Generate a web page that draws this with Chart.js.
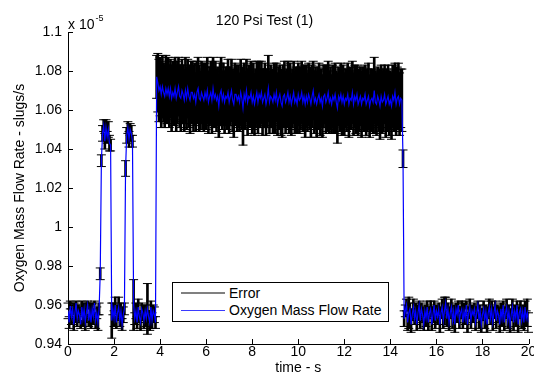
<!DOCTYPE html>
<html><head><meta charset="utf-8">
<script src="https://cdn.jsdelivr.net/npm/chart.js@4/dist/chart.umd.min.js"></script>
<style>
html,body{margin:0;padding:0;background:#fff;}
#wrap{position:relative;width:534px;height:375px;overflow:hidden;font-family:'Liberation Sans',Arial,sans-serif;}
#c{position:absolute;left:0;top:0;}
#legend{position:absolute;left:172px;top:282px;width:215px;height:38px;border:1px solid #000;background:#fff;}
.sw{position:absolute;left:8px;width:44px;}
.lt{position:absolute;left:56px;font-size:14px;line-height:16px;color:#000;white-space:nowrap;}
</style></head>
<body>
<div id="wrap">
<canvas id="c" width="534" height="375"></canvas>
<div id="legend">
  <div class="sw" style="top:9px;height:2px;background:#808080;"></div>
  <div class="lt" style="top:2px;">Error</div>
  <div class="sw" style="top:27px;height:1px;background:#3a3aff;"></div>
  <div class="lt" style="top:19px;">Oxygen Mass Flow Rate</div>
</div>
</div>
<script>
// ---- data (values in units of 1e-5 slugs/s, sampled every 0.05 s from 0 s) ----
const chartTitle = '120 Psi Test (1)';
const xAxisTitle = 'time - s';
const yAxisTitle = 'Oxygen Mass Flow Rate - slugs/s';
const sampleStart = 0;
const sampleStep = 0.05;

const flowRate = [
// 0.00-1.35
0.957,0.951,0.960,0.954,0.958,0.950,0.956,0.961,0.953,0.957,
0.955,0.950,0.959,0.953,0.958,0.951,0.956,0.960,0.952,0.957,
0.951,0.958,0.954,0.961,0.952,0.956,0.951,0.958,
// 1.40-1.85 first pulse
0.976,1.034,1.048,1.052,1.044,1.051,1.046,1.050,1.043,1.042,
// 1.90-2.45
0.952,0.958,0.953,0.960,0.951,0.956,0.959,0.952,0.957,0.950,0.955,0.958,
// 2.50-2.80 second pulse
1.030,1.047,1.051,1.045,1.050,1.048,1.044,
// 2.85-3.80
0.960,0.953,0.957,0.951,0.959,0.954,0.951,0.958,0.956,0.952,
0.957,0.953,0.958,0.954,0.951,0.959,0.952,0.957,0.955,0.951,
// 3.85 rise
1.077,
// 3.90-14.50 main flow
1.074,1.070,1.072,1.068,1.072,1.069,1.067,1.071,1.068,1.071,
1.067,1.071,1.066,1.069,1.067,1.071,1.066,1.069,1.072,1.067,
1.066,1.070,1.068,1.065,1.070,1.066,1.071,1.067,1.065,1.069,
1.069,1.066,1.068,1.064,1.069,1.071,1.066,1.065,1.069,1.067,
1.065,1.069,1.066,1.070,1.064,1.067,1.069,1.065,1.071,1.066,
1.068,1.065,1.067,1.062,1.068,1.070,1.065,1.068,1.064,1.067,
1.066,1.069,1.064,1.067,1.070,1.065,1.063,1.068,1.068,1.065,
1.067,1.064,1.069,1.066,1.061,1.068,1.065,1.070,1.064,1.067,
1.066,1.069,1.064,1.067,1.063,1.066,1.069,1.064,1.068,1.066,
1.069,1.064,1.066,1.068,1.063,1.066,1.071,1.064,1.067,1.066,
1.064,1.068,1.065,1.069,1.063,1.066,1.068,1.064,1.062,1.067,
1.068,1.064,1.066,1.069,1.064,1.067,1.063,1.066,1.069,1.064,
1.066,1.063,1.068,1.065,1.066,1.069,1.064,1.067,1.063,1.067,
1.064,1.068,1.066,1.063,1.067,1.070,1.064,1.066,1.063,1.066,
1.068,1.064,1.066,1.062,1.067,1.068,1.064,1.066,1.069,1.064,
1.066,1.063,1.067,1.065,1.068,1.064,1.061,1.067,1.065,1.068,
1.064,1.067,1.063,1.066,1.065,1.068,1.063,1.066,1.065,1.069,
1.063,1.067,1.065,1.068,1.063,1.065,1.067,1.063,1.066,1.065,
1.068,1.063,1.065,1.067,1.062,1.065,1.066,1.064,1.070,1.064,
1.063,1.067,1.065,1.062,1.067,1.064,1.065,1.068,1.063,1.065,
1.067,1.063,1.065,1.062,1.067,1.065,1.069,1.063,1.066,1.067,
1.063,1.066,1.065,
// 14.55 fall
1.035,
// 14.60-20.00
0.953,0.957,0.960,0.951,0.956,0.958,0.950,0.955,0.959,0.953,
0.957,0.950,0.956,0.960,0.952,0.958,0.955,0.950,0.957,0.953,
0.959,0.951,0.956,0.958,0.950,0.955,0.960,0.952,0.957,0.954,
0.958,0.950,0.956,0.959,0.952,0.957,0.961,0.953,0.958,0.951,
0.956,0.959,0.952,0.957,0.950,0.958,0.955,0.960,0.952,0.956,
0.958,0.951,0.957,0.953,0.960,0.950,0.956,0.959,0.952,0.957,
0.955,0.958,0.951,0.956,0.960,0.952,0.957,0.950,0.955,0.958,
0.952,0.957,0.950,0.956,0.959,0.953,0.958,0.951,0.956,0.960,
0.952,0.957,0.955,0.950,0.958,0.953,0.960,0.951,0.956,0.959,
0.952,0.957,0.950,0.955,0.959,0.951,0.957,0.953,0.960,0.950,
0.956,0.958,0.952,0.957,0.951,0.959,0.953,0.956,0.951
];

const flowError = [
// 0.00-1.35
0.004,0.003,0.002,0.004,0.003,0.003,0.005,0.001,0.004,0.003,
0.004,0.002,0.003,0.004,0.003,0.004,0.005,0.002,0.003,0.004,
0.003,0.003,0.004,0.001,0.004,0.003,0.004,0.003,
// 1.40-1.85
0.003,0.003,0.004,0.003,0.004,0.004,0.003,0.004,0.004,0.003,
// 1.90-2.45
0.009,0.003,0.004,0.004,0.003,0.004,0.005,0.003,0.004,0.003,0.004,0.003,
// 2.50-2.80
0.004,0.004,0.003,0.004,0.003,0.004,0.003,
// 2.85-3.80
0.013,0.003,0.004,0.003,0.004,0.003,0.004,0.003,0.004,0.004,
0.003,0.004,0.013,0.003,0.004,0.003,0.004,0.003,0.004,0.003,
// 3.85
0.011,
// 3.90-14.50
0.015,0.016,0.015,0.017,0.016,0.015,0.016,0.017,0.015,0.016,
0.016,0.015,0.017,0.016,0.015,0.016,0.017,0.016,0.015,0.016,
0.017,0.016,0.015,0.016,0.017,0.016,0.015,0.016,0.017,0.016,
0.016,0.017,0.016,0.015,0.016,0.016,0.017,0.015,0.016,0.017,
0.016,0.015,0.016,0.017,0.016,0.015,0.016,0.017,0.016,0.015,
0.017,0.016,0.015,0.016,0.016,0.017,0.015,0.016,0.016,0.015,
0.016,0.017,0.016,0.015,0.016,0.016,0.017,0.016,0.015,0.016,
0.016,0.015,0.017,0.016,0.019,0.016,0.015,0.016,0.017,0.016,
0.015,0.016,0.016,0.017,0.016,0.015,0.016,0.016,0.017,0.015,
0.016,0.017,0.015,0.016,0.016,0.015,0.017,0.016,0.016,0.015,
0.016,0.016,0.017,0.015,0.016,0.016,0.015,0.017,0.016,0.016,
0.017,0.016,0.015,0.016,0.016,0.017,0.016,0.015,0.016,0.016,
0.016,0.015,0.016,0.017,0.016,0.016,0.015,0.016,0.017,0.016,
0.015,0.016,0.016,0.017,0.016,0.015,0.016,0.016,0.017,0.016,
0.016,0.017,0.015,0.016,0.016,0.015,0.016,0.017,0.016,0.016,
0.016,0.015,0.016,0.017,0.016,0.016,0.018,0.015,0.016,0.016,
0.017,0.016,0.016,0.015,0.016,0.016,0.017,0.016,0.015,0.016,
0.016,0.016,0.017,0.015,0.016,0.016,0.015,0.017,0.016,0.016,
0.015,0.016,0.016,0.017,0.016,0.016,0.015,0.016,0.017,0.016,
0.016,0.015,0.016,0.017,0.016,0.016,0.016,0.015,0.017,0.016,
0.016,0.016,0.015,0.017,0.016,0.016,0.015,0.016,0.016,0.017,
0.016,0.015,0.016,
// 14.55
0.0045,
// 14.60-20.00
0.004,0.003,0.003,0.004,0.008,0.003,0.004,0.003,0.004,0.003,
0.004,0.003,0.004,0.002,0.004,0.003,0.004,0.003,0.003,0.004,
0.003,0.004,0.003,0.004,0.003,0.004,0.002,0.004,0.003,0.004,
0.003,0.004,0.003,0.004,0.004,0.007,0.003,0.004,0.003,0.004,
0.003,0.004,0.004,0.003,0.004,0.003,0.004,0.002,0.004,0.003,
0.004,0.003,0.004,0.003,0.002,0.004,0.003,0.004,0.004,0.003,
0.004,0.003,0.004,0.003,0.002,0.004,0.003,0.004,0.003,0.004,
0.004,0.003,0.004,0.003,0.004,0.003,0.004,0.004,0.003,0.002,
0.004,0.003,0.004,0.004,0.003,0.004,0.002,0.004,0.003,0.004,
0.004,0.003,0.004,0.003,0.004,0.004,0.003,0.004,0.002,0.004,
0.003,0.004,0.004,0.003,0.004,0.003,0.004,0.007,0.005
];

const xTickValues = [0,2,4,6,8,10,12,14,16,18,20];
const xTickLabels = ['0','2','4','6','8','10','12','14','16','18','20'];
const yTickValues = [0.94,0.96,0.98,1.00,1.02,1.04,1.06,1.08,1.10];
const yTickLabels = ['0.94','0.96','0.98','1','1.02','1.04','1.06','1.08','1.1'];
const yExponentBase = 'x 10';
const yExponent = '-5';

// ---- build datasets ----
const n = Math.min(flowRate.length, flowError.length);
const timeS = [];
for (let i = 0; i < n; i++) timeS.push(+(sampleStart + i * sampleStep).toFixed(2));
const linePts = [], barPts = [], capPts = [];
for (let i = 0; i < n; i++) {
  linePts.push({x: timeS[i], y: flowRate[i]});
  barPts.push({x: timeS[i], y: [flowRate[i] - flowError[i], flowRate[i] + flowError[i]]});
  capPts.push({x: timeS[i], y: flowRate[i] + flowError[i]});
  capPts.push({x: timeS[i], y: flowRate[i] - flowError[i]});
}

const FONT = "'Liberation Sans', Arial, sans-serif";
Chart.defaults.font.family = FONT;
Chart.defaults.font.size = 14;
Chart.defaults.color = '#000';

const inwardTicks = {
  id: 'inwardTicks',
  afterDraw(chart) {
    const {ctx, chartArea: a, scales: {x, y}} = chart;
    ctx.save();
    ctx.strokeStyle = '#000';
    ctx.lineWidth = 1;
    ctx.beginPath();
    yTickValues.forEach(v => {
      const py = Math.round(y.getPixelForValue(v)) + 0.5;
      ctx.moveTo(a.left, py); ctx.lineTo(a.left + 5, py);
    });
    xTickValues.forEach(v => {
      const px = Math.round(x.getPixelForValue(v)) + 0.5;
      ctx.moveTo(px, a.bottom); ctx.lineTo(px, a.bottom - 5);
    });
    ctx.stroke();
    ctx.fillStyle = '#000';
    ctx.textBaseline = 'alphabetic';
    ctx.textAlign = 'left';
    ctx.font = '14px ' + FONT;
    ctx.fillText(yExponentBase, a.left, a.top - 3);
    const w = ctx.measureText(yExponentBase).width;
    ctx.font = '9px ' + FONT;
    ctx.fillText(yExponent, a.left + w + 1, a.top - 11);
    ctx.restore();
  }
};

new Chart(document.getElementById('c'), {
  type: 'line',
  data: {
    datasets: [
      {type: 'line', label: 'Oxygen Mass Flow Rate', data: linePts, borderColor: '#0000ff',
       borderWidth: 1.2, pointRadius: 0, tension: 0, order: 0},
      {type: 'bar', label: 'Error', data: barPts, backgroundColor: '#000', borderWidth: 0,
       barThickness: 2, grouped: false, order: 2},
      {type: 'scatter', label: 'Error caps', data: capPts, pointStyle: 'line', pointRadius: 4.5,
       pointBorderColor: '#000', borderColor: '#000', pointBorderWidth: 1, borderWidth: 1,
       showLine: false, order: 1, clip: false}
    ]
  },
  options: {
    responsive: false,
    animation: false,
    events: [],
    layout: {padding: {left: 0, right: 5, top: 0, bottom: 0}},
    plugins: {
      legend: {display: false},
      tooltip: {enabled: false},
      title: {display: true, text: chartTitle, color: '#000',
              font: {size: 14, weight: 'normal'}, padding: {top: 12.6, bottom: 2.6}}
    },
    scales: {
      x: {
        type: 'linear', min: 0, max: 20, offset: false,
        grid: {display: false, offset: false, drawTicks: false},
        border: {display: true, color: '#000', width: 1},
        afterBuildTicks: s => { s.ticks = xTickValues.map(v => ({value: v})); },
        ticks: {color: '#000', font: {size: 14}, padding: 0, maxRotation: 0, autoSkip: false,
                callback: (v, i) => xTickLabels[i]},
        title: {display: true, text: xAxisTitle, color: '#000',
                font: {size: 14, lineHeight: 1}, padding: {top: 0, bottom: 0}},
        afterFit: s => { s.height = 31; s.paddingLeft = 0; s.paddingRight = 0; }
      },
      y: {
        type: 'linear', min: 0.94, max: 1.1, beginAtZero: false,
        grid: {display: false, drawTicks: false},
        border: {display: true, color: '#000', width: 1},
        afterBuildTicks: s => { s.ticks = yTickValues.map(v => ({value: v})); },
        ticks: {color: '#000', font: {size: 14}, padding: 6, autoSkip: false,
                callback: (v, i) => yTickLabels[i]},
        title: {display: true, text: yAxisTitle, color: '#000',
                font: {size: 14}, padding: {top: 11.6, bottom: 0}},
        afterFit: s => { s.width = 68; }
      }
    }
  },
  plugins: [inwardTicks]
});
</script>
</body></html>
